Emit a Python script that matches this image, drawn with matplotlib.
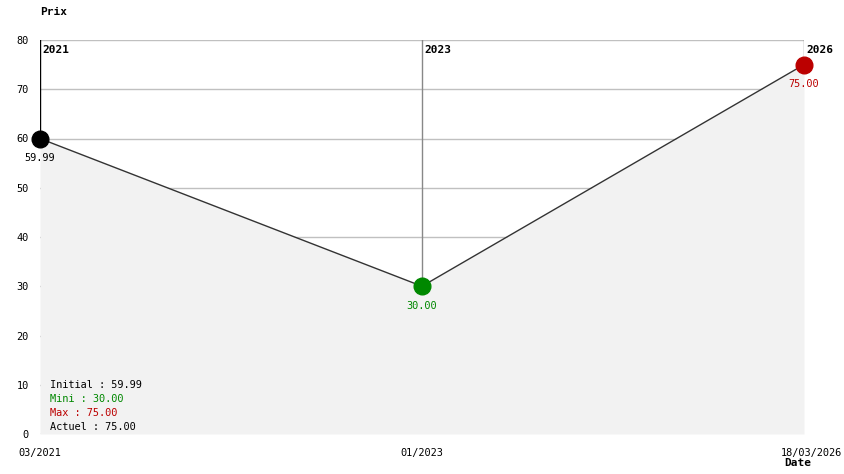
import matplotlib
matplotlib.use("Agg")
import matplotlib.pyplot as plt
import matplotlib.transforms as mtransforms

dates = ["03/2021", "01/2023", "18/03/2026"]
years = ["2021", "2023", "2026"]
prices = [59.99, 30.00, 75.00]
point_colors = ["#000000", "#008800", "#bb0000"]
yticks = [0, 10, 20, 30, 40, 50, 60, 70, 80]
summary = [("Initial : 59.99", "#000000"), ("Mini : 30.00", "#008800"),
           ("Max : 75.00", "#bb0000"), ("Actuel : 75.00", "#000000")]

W, H = 844, 474
fig = plt.figure(figsize=(W / 100, H / 100), dpi=100)
ax = fig.add_axes([40 / W, 40 / H, 764 / W, 394 / H])
font = "DejaVu Sans Mono"
plt.rcParams['font.family'] = [font]
fs = 7.4

x = list(range(len(prices)))
ax.set_xlim(0, len(prices) - 1)
ax.set_ylim(0, 80)

for y in yticks:
    ax.axhline(y, color="#c0c0c0", lw=1, zorder=1)
ax.fill_between(x, prices, 0, color="#f2f2f2", zorder=2, lw=0)
for i, (xi, p) in enumerate(zip(x, prices)):
    ax.plot([xi, xi], [p, 80], color="#000000" if i == 0 else "#888888", lw=1, zorder=3)
ax.plot(x, prices, color="#333333", lw=1, zorder=4)
for xi, p, c in zip(x, prices, point_colors):
    ax.plot(xi, p, "o", color=c, ms=12, zorder=5, clip_on=False)
    ax.annotate(f"{p:.2f}", (xi, p), xytext=(0, -14), textcoords="offset points",
                ha="center", va="center", color=c, fontsize=fs, family=font)
for xi, yr in zip(x, years):
    ax.annotate(yr, (xi, 80), xytext=(2, -7), textcoords="offset points",
                ha="left", va="center", fontsize=8, fontweight="bold", family=font)

for s in ax.spines.values():
    s.set_visible(False)
ax.set_yticks(yticks)
ax.set_yticklabels([str(v) for v in yticks], fontsize=fs, family=font)
ax.set_xticks(x)
ax.set_xticklabels(dates, fontsize=fs, family=font)
ax.tick_params(length=0, pad=8)
ax.tick_params(axis="x", pad=10)
lbls = ax.get_xticklabels()
lbls[-1].set_horizontalalignment("right")
lbls[-1].set_transform(lbls[-1].get_transform() + mtransforms.ScaledTranslation(38 / 100, 0, fig.dpi_scale_trans))

for i, (t, c) in enumerate(summary):
    fig.text(50 / W, 1 - (385 + 14 * i) / H, t, color=c, fontsize=fs, family=font,
             va="center", ha="left")
fig.text(40 / W, 1 - 12 / H, "Prix", fontsize=8, fontweight="bold", family=font, va="center")
fig.text(784 / W, 1 - 463 / H, "Date", fontsize=8, fontweight="bold", family=font, va="center")

fig.savefig("out.png", dpi=100)
